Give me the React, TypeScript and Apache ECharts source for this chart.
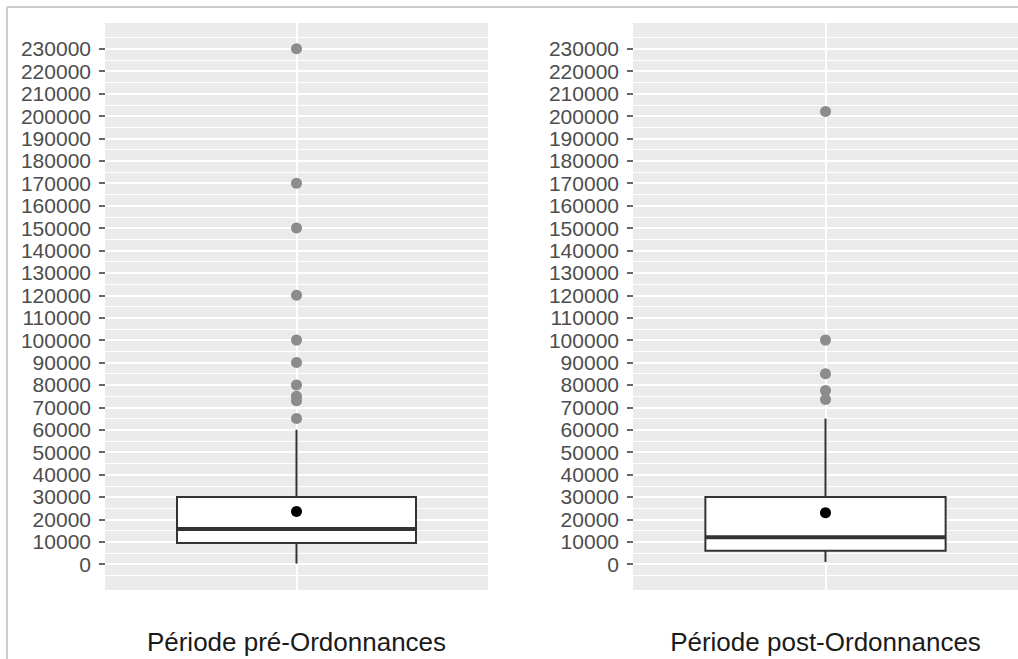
import React, { useEffect, useRef } from "react";
import * as echarts from "echarts";

const categories = ["Période pré-Ordonnances", "Période post-Ordonnances"];
// [lower whisker, Q1, median, Q3, upper whisker]
const preBox = [300, 9500, 15700, 30000, 60000];
const postBox = [1000, 6000, 12000, 30000, 65000];
const preMean = 23500;
const postMean = 23000;
const preOutliers = [230000, 170000, 150000, 120000, 100000, 90000, 80000, 75000, 73000, 65000];
const postOutliers = [202000, 100000, 85000, 77500, 73500];
const yTicks = [
  0, 10000, 20000, 30000, 40000, 50000, 60000, 70000, 80000, 90000, 100000, 110000,
  120000, 130000, 140000, 150000, 160000, 170000, 180000, 190000, 200000, 210000,
  220000, 230000,
];
const yMin = -11500;
const yMax = 241500;

const FONT = "'Liberation Sans', Arial, sans-serif";

export default function App() {
  const ref = useRef<HTMLDivElement>(null);
  useEffect(() => {
    if (!ref.current) return;
    const chart = echarts.init(ref.current, undefined, { renderer: "svg" });
    const minorTicks = [...yTicks.map((v) => v - 5000), yTicks[yTicks.length - 1] + 5000];
    const boxes = [preBox, postBox];
    const means = [preMean, postMean];
    const outliers = [preOutliers, postOutliers];
    const grids = [
      { left: 105, top: 23, width: 383, height: 567 },
      { left: 633, top: 23, width: 385, height: 567 },
    ];

    const series: any[] = [];
    categories.forEach((cat, i) => {
      series.push({
        type: "line",
        xAxisIndex: i,
        yAxisIndex: i,
        data: [],
        silent: true,
        z: 1,
        markLine: {
          z: 1,
          silent: true,
          symbol: ["none", "none"],
          label: { show: false },
          emphasis: { disabled: true },
          animation: false,
          data: [
            ...minorTicks.map((v) => ({ yAxis: v, lineStyle: { color: "#ffffff", width: 1, type: "solid" } })),
            ...yTicks.map((v) => ({ yAxis: v, lineStyle: { color: "#ffffff", width: 2, type: "solid" } })),
            { xAxis: cat, lineStyle: { color: "#ffffff", width: 2, type: "solid" } },
          ],
        },
      });
      series.push({
        type: "custom",
        xAxisIndex: i,
        yAxisIndex: i,
        z: 10,
        data: [[0, ...boxes[i]]],
        encode: { x: 0, y: [1, 2, 3, 4, 5] },
        renderItem: (params: any, api: any) => {
          const x = api.value(0);
          const lo = api.coord([x, api.value(1)]);
          const q1 = api.coord([x, api.value(2)]);
          const md = api.coord([x, api.value(3)]);
          const q3 = api.coord([x, api.value(4)]);
          const hi = api.coord([x, api.value(5)]);
          const bw = api.size([1, 0])[0] * 0.624;
          const cx = lo[0];
          const stroke = { stroke: "#333333", lineWidth: 2, fill: "none" };
          return {
            type: "group",
            children: [
              { type: "line", shape: { x1: cx, y1: q3[1], x2: cx, y2: hi[1] }, style: stroke },
              { type: "line", shape: { x1: cx, y1: q1[1], x2: cx, y2: lo[1] }, style: stroke },
              {
                type: "rect",
                shape: { x: cx - bw / 2, y: q3[1], width: bw, height: q1[1] - q3[1] },
                style: { fill: "#ffffff", stroke: "#333333", lineWidth: 2 },
              },
              {
                type: "line",
                shape: { x1: cx - bw / 2, y1: md[1], x2: cx + bw / 2, y2: md[1] },
                style: { stroke: "#333333", lineWidth: 4 },
              },
            ],
          };
        },
      });
      series.push({
        type: "scatter",
        xAxisIndex: i,
        yAxisIndex: i,
        z: 11,
        symbolSize: 11,
        itemStyle: { color: "#8c8c8c", opacity: 1 },
        data: outliers[i].map((v) => [cat, v]),
      });
      series.push({
        type: "scatter",
        xAxisIndex: i,
        yAxisIndex: i,
        z: 12,
        symbolSize: 11,
        itemStyle: { color: "#000000", opacity: 1 },
        data: [[cat, means[i]]],
      });
    });

    chart.setOption({
      animation: false,
      backgroundColor: "#ffffff",
      grid: grids.map((g) => ({
        ...g,
        show: true,
        backgroundColor: "#ebebeb",
        borderWidth: 0,
        containLabel: false,
      })),
      xAxis: categories.map((cat, i) => ({
        type: "category",
        gridIndex: i,
        data: [cat],
        boundaryGap: true,
        axisLine: { show: false },
        axisTick: { show: true, alignWithLabel: true, length: 6, lineStyle: { color: "#333333", width: 2 } },
        axisLabel: { color: "#1a1a1a", fontSize: 26, fontFamily: FONT, margin: 39 },
        splitLine: { show: false },
      })),
      yAxis: categories.map((_, i) => ({
        type: "value",
        gridIndex: i,
        min: yMin,
        max: yMax,
        axisLine: { show: false },
        axisTick: { show: true, length: 6, customValues: yTicks, lineStyle: { color: "#333333", width: 1.5 } },
        axisLabel: {
          show: true,
          customValues: yTicks,
          formatter: (v: number) => String(v),
          color: "#4d4d4d",
          fontSize: 21,
          fontFamily: FONT,
          margin: 14,
        },
        splitLine: { show: false },
      })),
      graphic: [
        { type: "line", shape: { x1: 7, y1: 7, x2: 7, y2: 659 }, style: { stroke: "#cccccc", lineWidth: 2 } },
        { type: "line", shape: { x1: 7, y1: 7, x2: 1018, y2: 7 }, style: { stroke: "#cccccc", lineWidth: 2 } },
      ],
      series,
    });
    return () => chart.dispose();
  }, []);
  return (
    <div
      ref={ref}
      style={{ position: "fixed", left: 0, top: 0, width: 1018, height: 659, background: "#ffffff" }}
    />
  );
}
